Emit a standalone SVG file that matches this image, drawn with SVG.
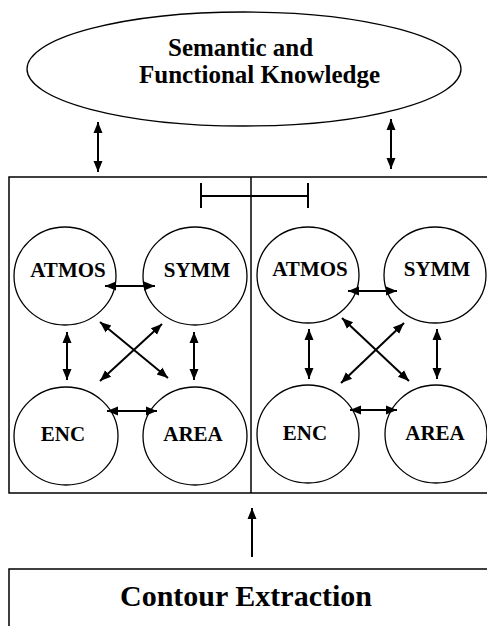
<svg xmlns="http://www.w3.org/2000/svg" width="487" height="626" viewBox="0 0 487 626">
<style>
.shape{fill:none;stroke:#000;stroke-width:1.3}
.box{fill:none;stroke:#000;stroke-width:1.5}
.lbl{font-family:"Liberation Serif","Times New Roman",serif;font-weight:bold;fill:#000}
.node{font-size:21px;text-anchor:middle}
.arr{fill:none;stroke:#000;stroke-width:2}
</style>
<defs>
<marker id="ah" markerUnits="userSpaceOnUse" markerWidth="12" markerHeight="12" viewBox="0 0 12 12" refX="11" refY="6" orient="auto-start-reverse">
<path d="M0,1.5 L11,6 L0,10.5 Z" fill="#000"/>
</marker>
</defs>
<rect width="487" height="626" fill="#fff"/>

<g id="knowledge">
<ellipse class="shape" cx="244" cy="69" rx="217" ry="57"/>
<text class="lbl" x="168" y="56" font-size="25">Semantic and</text>
<text class="lbl" x="139" y="83" font-size="25">Functional Knowledge</text>
</g>

<g id="module-box">
<rect class="box" x="9" y="177" width="490" height="316"/>
<line class="box" x1="251" y1="177" x2="251" y2="493"/>
</g>

<g id="left-atmos"><ellipse class="shape" cx="65" cy="276" rx="51" ry="49"/><text class="lbl node" x="68" y="277">ATMOS</text></g>
<g id="left-symm"><ellipse class="shape" cx="195" cy="276" rx="52" ry="49"/><text class="lbl node" x="197" y="277">SYMM</text></g>
<g id="left-enc"><ellipse class="shape" cx="66" cy="436" rx="52" ry="49"/><text class="lbl node" x="63" y="441">ENC</text></g>
<g id="left-area"><ellipse class="shape" cx="195" cy="436" rx="52" ry="49"/><text class="lbl node" x="193" y="441">AREA</text></g>

<g id="right-atmos"><ellipse class="shape" cx="308" cy="275" rx="51" ry="48"/><text class="lbl node" x="310" y="276">ATMOS</text></g>
<g id="right-symm"><ellipse class="shape" cx="435" cy="275" rx="51" ry="48"/><text class="lbl node" x="437" y="276">SYMM</text></g>
<g id="right-enc"><ellipse class="shape" cx="308" cy="434" rx="51" ry="49"/><text class="lbl node" x="305" y="440">ENC</text></g>
<g id="right-area"><ellipse class="shape" cx="436" cy="434" rx="51" ry="49"/><text class="lbl node" x="435" y="440">AREA</text></g>

<g id="contour">
<rect class="box" x="9" y="569" width="490" height="100"/>
<text class="lbl" x="246" y="606" font-size="30" text-anchor="middle">Contour Extraction</text>
</g>

<g id="connectors">
<line class="arr" x1="98" y1="122" x2="98" y2="172" marker-start="url(#ah)" marker-end="url(#ah)"/>
<line class="arr" x1="391" y1="119" x2="391" y2="169" marker-start="url(#ah)" marker-end="url(#ah)"/>
<line class="arr" x1="252" y1="557" x2="252" y2="508" marker-end="url(#ah)"/>
<path class="arr" d="M201,183 V208 M201,196 H308 M308,183 V208"/>

<line class="arr" x1="105" y1="286" x2="155" y2="286" marker-start="url(#ah)" marker-end="url(#ah)"/>
<line class="arr" x1="67" y1="332" x2="67" y2="380" marker-start="url(#ah)" marker-end="url(#ah)"/>
<line class="arr" x1="194" y1="332" x2="194" y2="380" marker-start="url(#ah)" marker-end="url(#ah)"/>
<line class="arr" x1="100" y1="322" x2="168" y2="378" marker-start="url(#ah)" marker-end="url(#ah)"/>
<line class="arr" x1="162" y1="324" x2="100" y2="381" marker-start="url(#ah)" marker-end="url(#ah)"/>
<line class="arr" x1="107" y1="411" x2="157" y2="411" marker-start="url(#ah)" marker-end="url(#ah)"/>

<line class="arr" x1="348" y1="291" x2="397" y2="291" marker-start="url(#ah)" marker-end="url(#ah)"/>
<line class="arr" x1="309" y1="329" x2="309" y2="379" marker-start="url(#ah)" marker-end="url(#ah)"/>
<line class="arr" x1="437" y1="329" x2="437" y2="379" marker-start="url(#ah)" marker-end="url(#ah)"/>
<line class="arr" x1="342" y1="318" x2="409" y2="381" marker-start="url(#ah)" marker-end="url(#ah)"/>
<line class="arr" x1="404" y1="323" x2="341" y2="383" marker-start="url(#ah)" marker-end="url(#ah)"/>
<line class="arr" x1="350" y1="410" x2="397" y2="410" marker-start="url(#ah)" marker-end="url(#ah)"/>
</g>
</svg>
